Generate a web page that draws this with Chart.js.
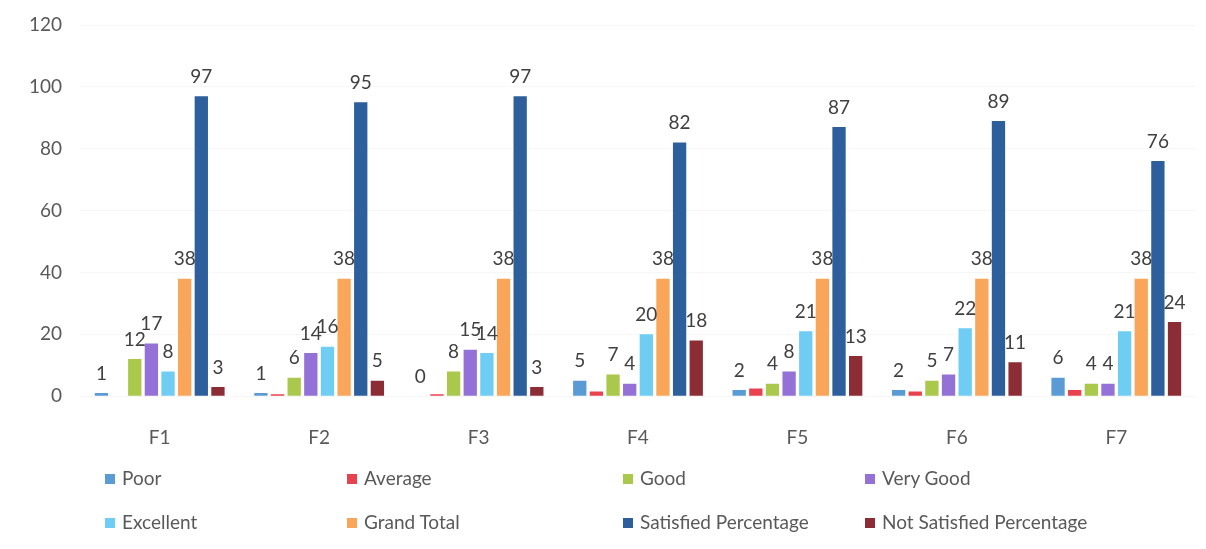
<!DOCTYPE html>
<html>
<head>
<meta charset="utf-8">
<script src="https://cdn.jsdelivr.net/npm/chart.js@4.4.0/dist/chart.umd.min.js"></script>
<style>
  body { margin: 0; background: #fff; }
  #wrap { position: relative; width: 1206px; height: 549px; }
  #legend { position: absolute; left: 0; top: 0; width: 1206px; height: 549px; pointer-events: none; }
  .item { position: absolute; font-family: Lato, sans-serif; font-size: 19px; color: #595959; white-space: nowrap; }
  .box { display: inline-block; width: 10px; height: 10px; margin-right: 7px; vertical-align: 1px; }
</style>
</head>
<body>
<div id="wrap">
  <canvas id="myChart" width="1206" height="549"></canvas>
  <div id="legend"></div>
</div>
<script>
const categories = ['F1', 'F2', 'F3', 'F4', 'F5', 'F6', 'F7']

const poor = [1, 1, 0, 5, 2, 2, 6]
const average = [0, 0.6, 0.6, 1.5, 2.5, 1.5, 2]
const good = [12, 6, 8, 7, 4, 5, 4]
const veryGood = [17, 14, 15, 4, 8, 7, 4]
const excellent = [8, 16, 14, 20, 21, 22, 21]
const grandTotal = [38, 38, 38, 38, 38, 38, 38]
const satisfied = [97, 95, 97, 82, 87, 89, 76]
const notSatisfied = [3, 5, 3, 18, 13, 11, 24]

const yTicks = [0, 20, 40, 60, 80, 100, 120]

// series: label, data, colour, show value labels?
const series = [
    ['Poor', poor, '#5b9bd5', true],
    ['Average', average, '#e8424f', false],
    ['Good', good, '#a9c84c', true],
    ['Very Good', veryGood, '#9471d6', true],
    ['Excellent', excellent, '#6fcdf3', true],
    ['Grand Total', grandTotal, '#f9a65a', true],
    ['Satisfied Percentage', satisfied, '#2e5f9d', true],
    ['Not Satisfied Percentage', notSatisfied, '#8c2d36', true]
]

// legend slots (left x of box, centre y)
const legendPos = [
    [105, 478], [347, 478], [623, 478], [865, 478],
    [105, 522], [347, 522], [623, 522], [865, 522]
]

const valueLabels = {
    id: 'valueLabels',
    afterDatasetsDraw(chart) {
        const ctx = chart.ctx
        ctx.save()
        ctx.font = '19px Lato, sans-serif'
        ctx.fillStyle = '#404040'
        ctx.textAlign = 'center'
        ctx.textBaseline = 'bottom'
        chart.data.datasets.forEach((ds, i) => {
            if (!ds.showLabels) return
            chart.getDatasetMeta(i).data.forEach((bar, j) => {
                ctx.fillText(ds.data[j], bar.x, bar.y - 10)
            })
        })
        ctx.restore()
    }
}

const ctx = document.getElementById('myChart')

new Chart(ctx, {
    type: 'bar',
    data: {
        labels: categories,
        datasets: series.map(s => ({
            label: s[0],
            data: s[1],
            backgroundColor: s[2],
            showLabels: s[3],
            categoryPercentage: 0.835,
            barPercentage: 0.8
        }))
    },
    options: {
        responsive: false,
        animation: false,
        layout: { padding: { top: 25, right: 10, left: 0, bottom: 78 } },
        plugins: {
            legend: { display: false },
            tooltip: { enabled: false }
        },
        scales: {
            x: {
                grid: { display: false },
                border: { display: false },
                ticks: { color: '#595959', font: { family: 'Lato', size: 19 }, padding: 22 }
            },
            y: {
                min: 0,
                max: 120,
                afterBuildTicks: axis => { axis.ticks = yTicks.map(v => ({ value: v })) },
                afterFit: axis => {
                    axis.width = 80
                    axis.paddingTop = 0
                    axis.paddingBottom = 0
                },
                grid: { color: '#f6f6f6', drawTicks: false },
                border: { display: false },
                ticks: { color: '#595959', font: { family: 'Lato', size: 19 }, padding: 18 }
            }
        }
    },
    plugins: [valueLabels]
});

const legend = document.getElementById('legend')
series.forEach((s, i) => {
    const el = document.createElement('div')
    el.className = 'item'
    el.style.left = legendPos[i][0] + 'px'
    el.style.top = (legendPos[i][1] - 12) + 'px'
    el.innerHTML = '<span class="box" style="background:' + s[2] + '"></span>' + s[0]
    legend.appendChild(el)
})
</script>
</body>
</html>
